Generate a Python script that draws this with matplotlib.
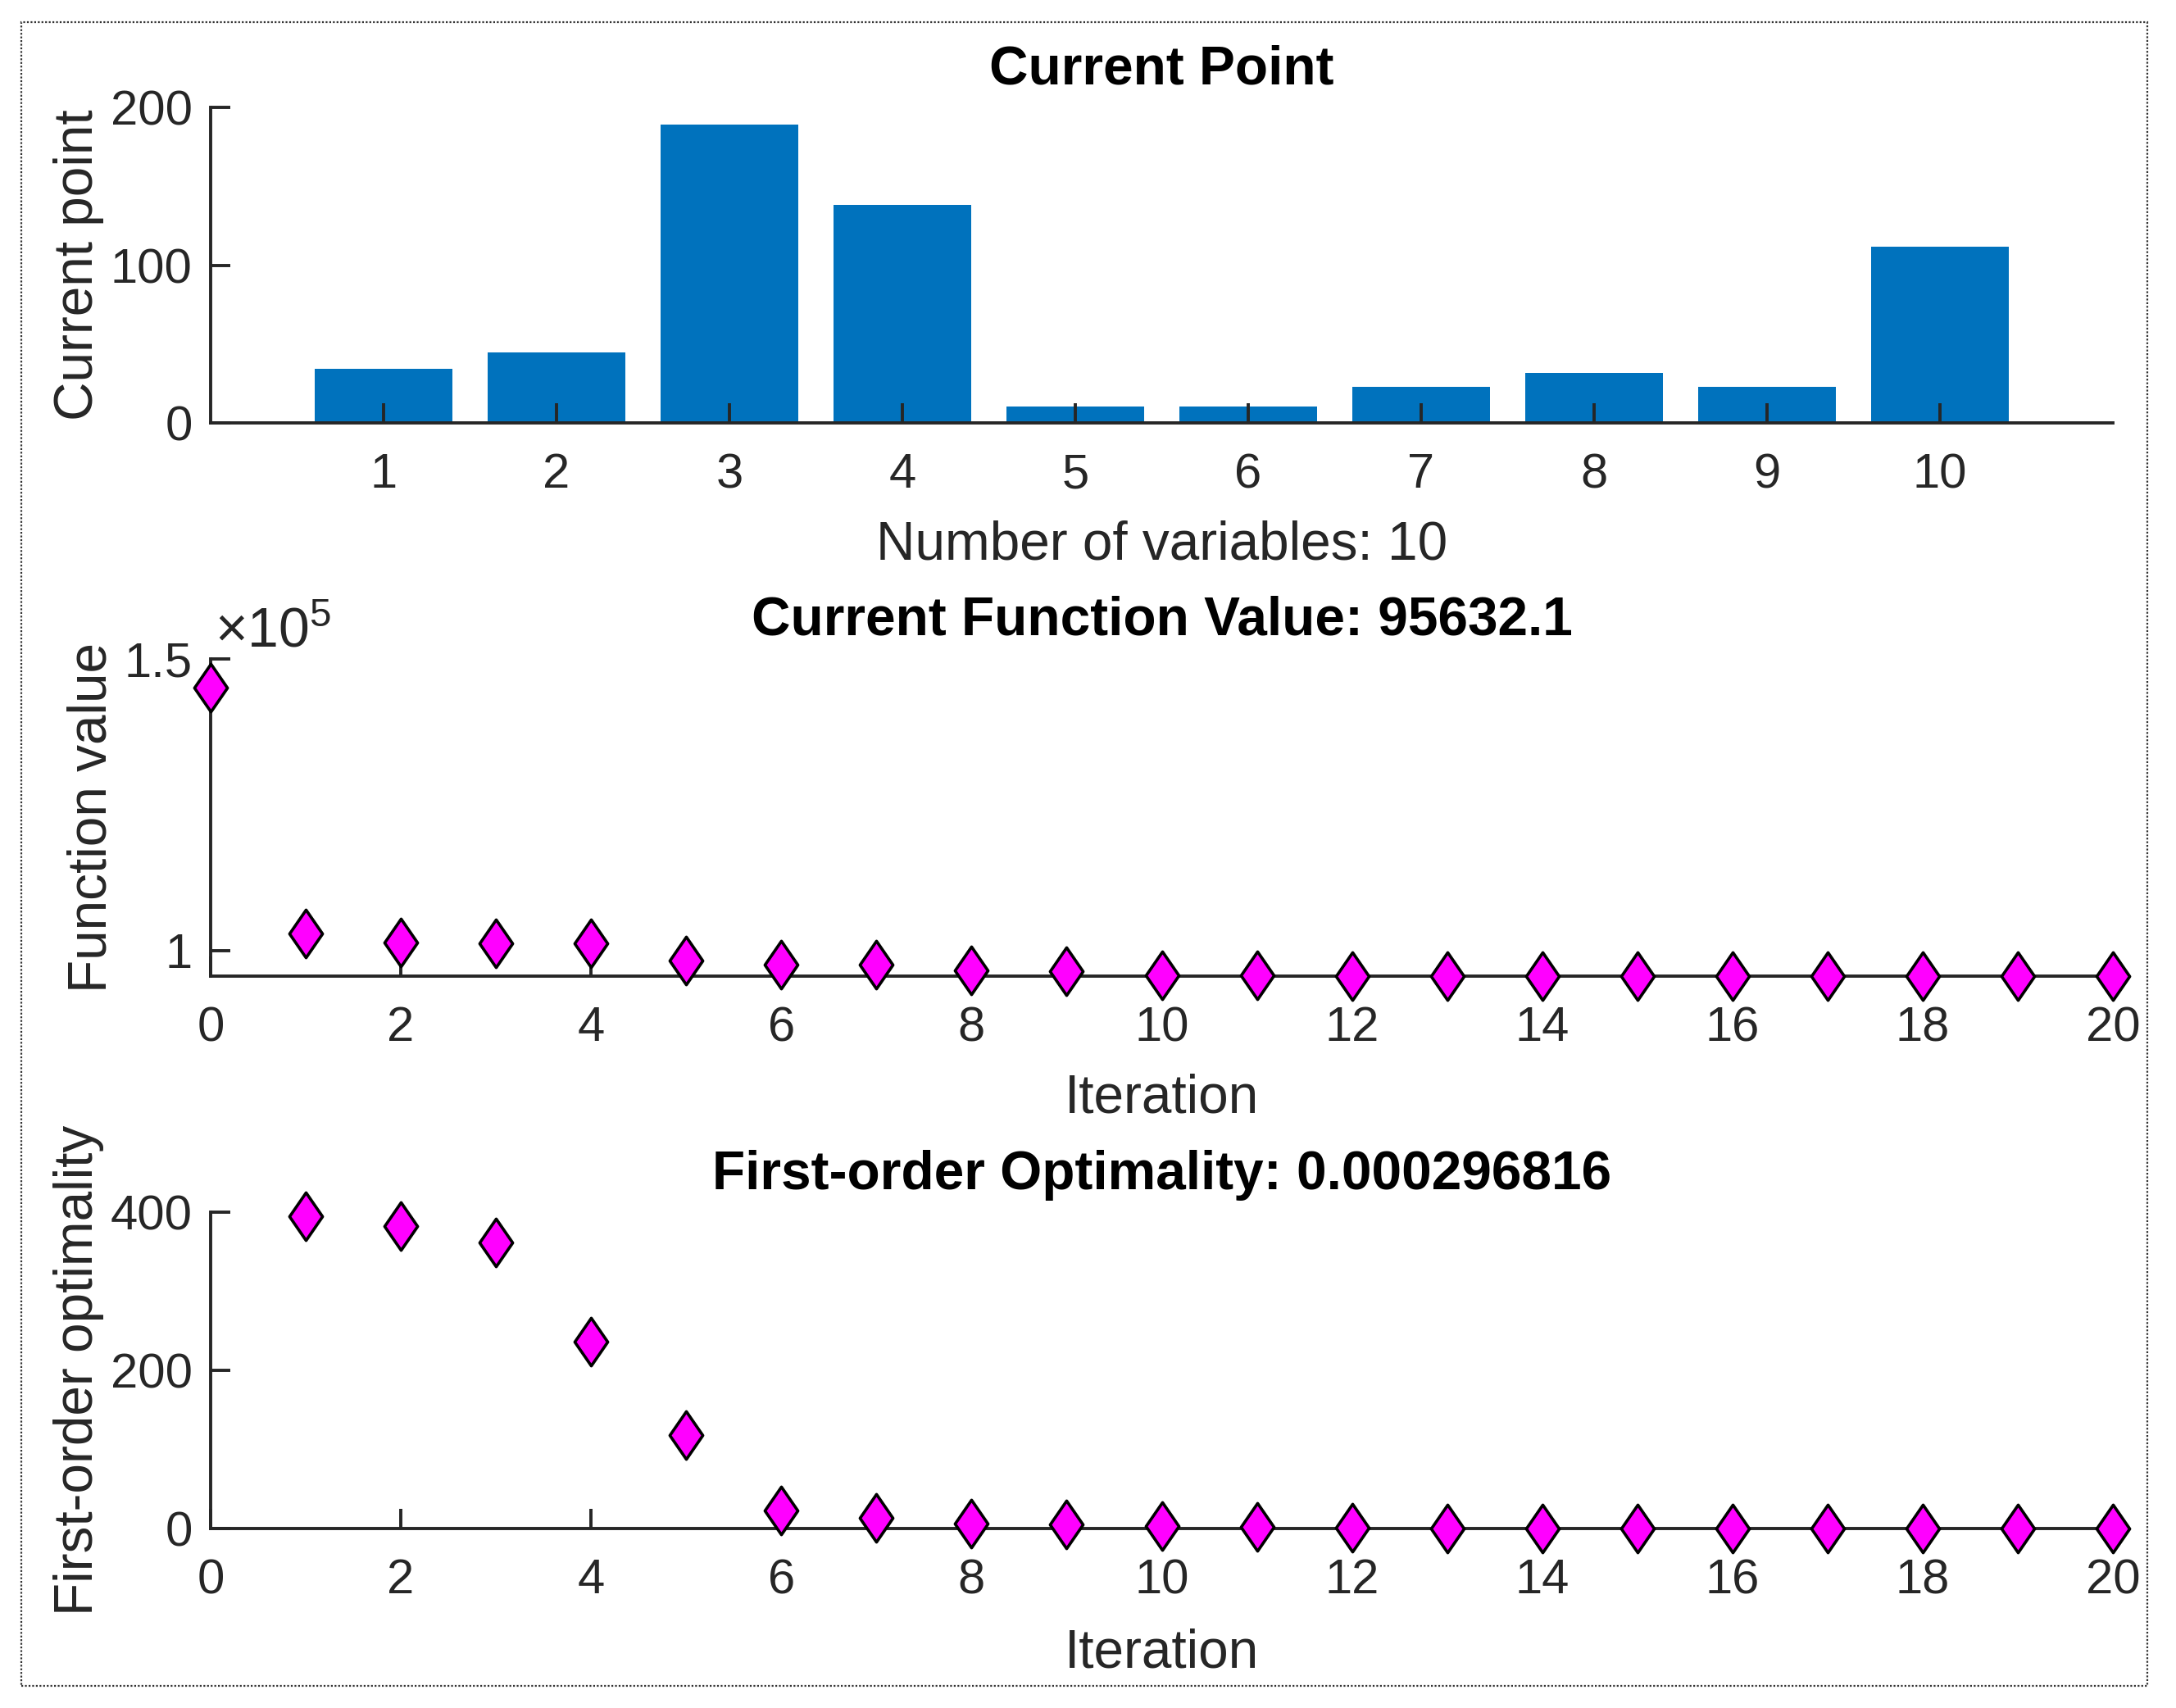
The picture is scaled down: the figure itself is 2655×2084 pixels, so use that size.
import matplotlib
matplotlib.use("Agg")
import matplotlib.pyplot as plt
from matplotlib.path import Path
from matplotlib.patches import Rectangle
from matplotlib.ticker import FuncFormatter

plt.rcParams['font.family'] = ['Liberation Sans', 'DejaVu Sans']
plt.rcParams['mathtext.fontset'] = 'custom'
plt.rcParams['mathtext.rm'] = 'Liberation Sans'
plt.rcParams['mathtext.it'] = 'Liberation Sans'

# data
var_index = [1, 2, 3, 4, 5, 6, 7, 8, 9, 10]
current_point = [34.3, 44.7, 189.1, 138.1, 10.4, 10.4, 22.9, 31.7, 22.9, 111.7]

fval_iter = list(range(0, 21))
fval = [145100, 102890, 101350, 101250, 101250, 98300, 97600, 97650,
        96570, 96430, 95820, 95810, 95690, 95670, 95655, 95645, 95640,
        95636, 95634, 95633, 95632.1]

opt_iter = list(range(1, 21))
optimality = [394.6, 382.5, 361.8, 235.9, 118.0, 23.2, 13.9, 6.2, 5.2, 3.4,
              2.1, 1.0, 0.5, 0.3, 0.2, 0.1, 0.05, 0.01, 0.002, 0.000296816]

BAR_COLOR = '#0072BD'
AX_COLOR = '#262626'
TICK_FS = 21.5
LABEL_FS = 23.7

W, H = 2655, 2084
fig = plt.figure(figsize=(W / 200, H / 200), dpi=200)

# slim dotted frame round the figure
fig.patches.append(Rectangle((26 / W, 1 - 2057 / H), (2620 - 26) / W, (2057 - 27) / H,
                             transform=fig.transFigure, fill=False,
                             linestyle=(0, (1, 1)), linewidth=0.8,
                             edgecolor='#333333'))

left = 257 / W
width = (2578 - 257) / W


def make_axes(top_px, bottom_px):
    ax = fig.add_axes([left, 1 - bottom_px / H, width, (bottom_px - top_px) / H])
    for s in ['top', 'right']:
        ax.spines[s].set_visible(False)
    for s in ['left', 'bottom']:
        ax.spines[s].set_linewidth(1.4)
        ax.spines[s].set_color(AX_COLOR)
    ax.tick_params(direction='in', length=8.6, width=1.4, colors=AX_COLOR,
                   labelsize=TICK_FS)
    ax.tick_params(axis='x', pad=13)
    ax.tick_params(axis='y', pad=8)
    return ax


# diamond like the matlab 'd' marker
diamond = Path([(0, 1), (0.69, 0), (0, -1), (-0.69, 0), (0, 1)],
               [Path.MOVETO, Path.LINETO, Path.LINETO, Path.LINETO, Path.CLOSEPOLY])
mk = dict(marker=diamond, markersize=21, markerfacecolor='#FF00FF',
          markeredgecolor='black', markeredgewidth=1.3, linestyle='none',
          clip_on=False, zorder=3)

# --- Current point (bars)
ax1 = make_axes(131, 516)
ax1.bar(var_index, current_point, width=0.8, color=BAR_COLOR, zorder=1)
ax1.set_xlim(0, 11)
ax1.set_ylim(0, 200)
ax1.set_xticks(var_index)
ax1.set_yticks([0, 100, 200])
ax1.set_title('Current Point', fontsize=LABEL_FS, fontweight='bold', pad=10.2)
ax1.set_ylabel('Current point', fontsize=LABEL_FS, color=AX_COLOR)
ax1.yaxis.set_label_coords(-0.056, 0.5)
ax1.set_xlabel('Number of variables: 10', fontsize=LABEL_FS, color=AX_COLOR)
ax1.xaxis.set_label_coords(0.5, -0.309)

# --- Function value
ax2 = make_axes(804, 1191)
ax2.plot(fval_iter, fval, **mk)
ax2.set_xlim(0, 20)
ax2.set_ylim(fval[-1], 150000)
ax2.set_xticks(range(0, 21, 2))
ax2.set_yticks([100000, 150000])
ax2.yaxis.set_major_formatter(FuncFormatter(lambda v, p: f'{v / 1e5:g}'))
ax2.text(0.002, 1.037, r'$\times10^{5}$', transform=ax2.transAxes,
         fontsize=24.5, color=AX_COLOR, ha='left', va='baseline')
ax2.set_title('Current Function Value: 95632.1', fontsize=LABEL_FS,
              fontweight='bold', pad=10.5)
ax2.set_ylabel('Function value', fontsize=LABEL_FS, color=AX_COLOR)
ax2.yaxis.set_label_coords(-0.049, 0.5)
ax2.set_xlabel('Iteration', fontsize=LABEL_FS, color=AX_COLOR)
ax2.xaxis.set_label_coords(0.5, -0.306)

# --- First-order optimality
ax3 = make_axes(1479, 1865)
ax3.plot(opt_iter, optimality, **mk)
ax3.set_xlim(0, 20)
ax3.set_ylim(0, 400)
ax3.set_xticks(range(0, 21, 2))
ax3.set_yticks([0, 200, 400])
ax3.set_title('First-order Optimality: 0.000296816', fontsize=LABEL_FS,
              fontweight='bold', pad=10)
ax3.set_ylabel('First-order optimality', fontsize=LABEL_FS, color=AX_COLOR)
ax3.yaxis.set_label_coords(-0.056, 0.5)
ax3.set_xlabel('Iteration', fontsize=LABEL_FS, color=AX_COLOR)
ax3.xaxis.set_label_coords(0.5, -0.316)

fig.savefig('out.png', dpi=200, facecolor='white')
